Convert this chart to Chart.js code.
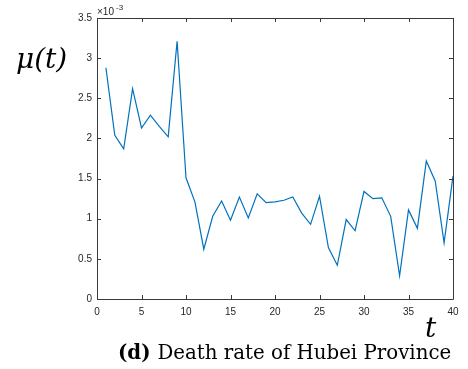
<!DOCTYPE html>
<html>
<head>
<meta charset="utf-8">
<script src="https://cdn.jsdelivr.net/npm/chart.js@4/dist/chart.umd.min.js"></script>
<style>
  html, body { margin: 0; padding: 0; background: #fff; }
  #wrap { width: 468px; height: 369px; position: relative; }
</style>
</head>
<body>
<div id="wrap"><canvas id="c"></canvas></div>
<script>
// death rate mu(t), in units of 1e-3
const days = [1,2,3,4,5,6,7,8,9,10,11,12,13,14,15,16,17,18,19,20,
              21,22,23,24,25,26,27,28,29,30,31,32,33,34,35,36,37,38,39,40];
const deathRate = [2.88,2.04,1.87,2.62,2.13,2.29,2.15,2.02,3.21,1.51,
                   1.21,0.62,1.03,1.22,0.98,1.27,1.01,1.31,1.20,1.21,
                   1.23,1.27,1.07,0.93,1.28,0.64,0.42,0.99,0.85,1.34,
                   1.25,1.26,1.03,0.29,1.11,0.88,1.72,1.47,0.70,1.53];
const xTicks = [0,5,10,15,20,25,30,35,40];
const yTicks = [0,0.5,1,1.5,2,2.5,3,3.5];

const axisColor = '#3a3a3a';

// box, inward ticks and the extra labels (matlab style)
const decor = {
  id: 'decor',
  afterDraw(chart) {
    const ctx = chart.ctx;
    const a = chart.chartArea;
    const xs = chart.scales.x, ys = chart.scales.y;
    ctx.save();
    ctx.strokeStyle = axisColor;
    ctx.lineWidth = 1;
    ctx.beginPath();
    ctx.rect(Math.round(a.left) + 0.5, Math.round(a.top) + 0.5,
             Math.round(a.right - a.left), Math.round(a.bottom - a.top));
    xTicks.forEach(v => {
      const px = Math.round(xs.getPixelForValue(v)) + 0.5;
      ctx.moveTo(px, a.bottom); ctx.lineTo(px, a.bottom - 4);
      ctx.moveTo(px, a.top); ctx.lineTo(px, a.top + 4);
    });
    yTicks.forEach(v => {
      const py = Math.round(ys.getPixelForValue(v)) + 0.5;
      ctx.moveTo(a.left, py); ctx.lineTo(a.left + 4, py);
      ctx.moveTo(a.right, py); ctx.lineTo(a.right - 4, py);
    });
    ctx.stroke();

    // exponent
    ctx.fillStyle = '#262626';
    ctx.textBaseline = 'alphabetic';
    ctx.font = '10px "Liberation Sans", Arial, sans-serif';
    ctx.fillText('\u00d710', a.left, a.top - 3);
    ctx.font = '8px "Liberation Sans", Arial, sans-serif';
    ctx.fillText('-3', a.left + 19, a.top - 8);

    // axis labels
    ctx.fillStyle = '#000';
    ctx.font = 'italic 28px "DejaVu Serif", "Liberation Serif", serif';
    ctx.fillText('\u03bc(t)', 16, 68);
    ctx.fillText('t', 425, 337);

    // caption
    ctx.font = 'bold 19.8px "DejaVu Serif", "Liberation Serif", serif';
    ctx.fillText('(d)', 118, 359);
    const w = ctx.measureText('(d) ').width;
    ctx.font = '19.8px "DejaVu Serif", "Liberation Serif", serif';
    ctx.fillText('Death rate of Hubei Province', 118 + w, 359);
    ctx.restore();
  }
};

new Chart(document.getElementById('c'), {
  type: 'line',
  data: {
    datasets: [{
      data: days.map((d, i) => ({ x: d, y: deathRate[i] })),
      borderColor: '#0072BD',
      borderWidth: 1.2,
      pointRadius: 0,
      tension: 0,
      fill: false
    }]
  },
  options: {
    responsive: true,
    maintainAspectRatio: false,
    animation: false,
    layout: { padding: { top: 18, right: 15, left: 0, bottom: 0 } },
    plugins: { legend: { display: false }, tooltip: { enabled: false } },
    scales: {
      x: {
        type: 'linear',
        min: 0, max: 40,
        afterFit(scale) { scale.height = 70; },
        afterBuildTicks(scale) { scale.ticks = xTicks.map(v => ({ value: v })); },
        grid: { display: false, drawTicks: false },
        border: { display: false },
        ticks: {
          padding: 7,
          maxRotation: 0,
          color: '#262626',
          font: { family: '"Liberation Sans", Arial, sans-serif', size: 10 }
        }
      },
      y: {
        min: 0, max: 3.5,
        afterFit(scale) { scale.width = 97; },
        afterBuildTicks(scale) { scale.ticks = yTicks.map(v => ({ value: v })); },
        grid: { display: false, drawTicks: false },
        border: { display: false },
        ticks: {
          padding: 5,
          color: '#262626',
          font: { family: '"Liberation Sans", Arial, sans-serif', size: 10 },
          callback: v => String(v)
        }
      }
    }
  },
  plugins: [decor]
});
</script>
</body>
</html>
